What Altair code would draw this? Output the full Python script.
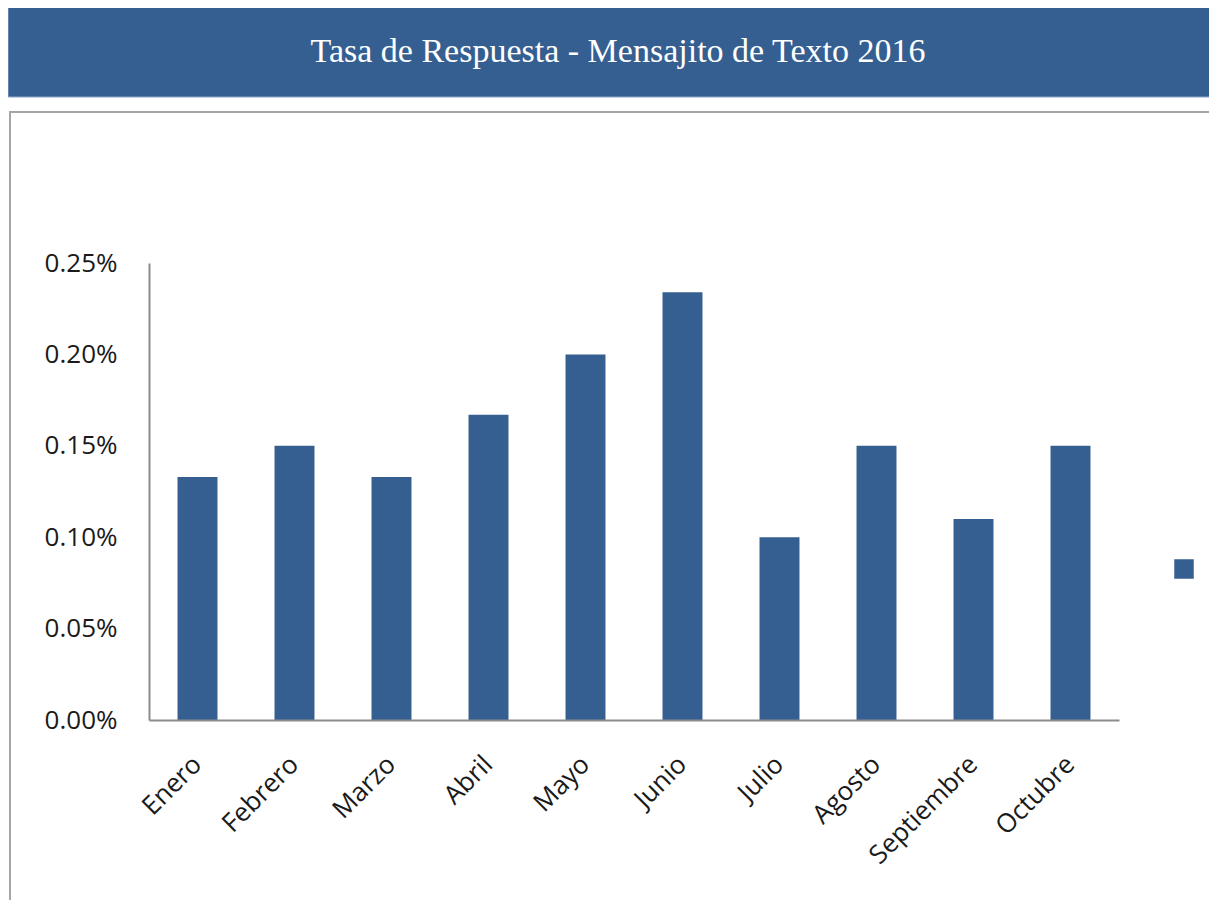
import altair as alt
import pandas as pd

meses = ["Enero", "Febrero", "Marzo", "Abril", "Mayo", "Junio", "Julio",
         "Agosto", "Septiembre", "Octubre"]
tasa = [0.00133, 0.0015, 0.00133, 0.00167, 0.0020, 0.00234, 0.0010,
        0.0015, 0.0011, 0.0015]
y_ticks = [0, 0.0005, 0.001, 0.0015, 0.002, 0.0025]
titulo = "Tasa de Respuesta  - Mensajito de Texto 2016"
serie = " "

BLUE = "#365F91"
df = pd.DataFrame({"mes": meses, "tasa": tasa, "serie": [serie] * len(meses)})

W, H = 970, 457
one = alt.Data(values=[{"t": titulo}])

box = alt.Chart(one).mark_rect(fillOpacity=0, stroke="#A6A6A6", strokeWidth=2).encode(
    x=alt.value(-139), x2=alt.value(1200), y=alt.value(-151), y2=alt.value(800)
)
band = alt.Chart(one).mark_rect(fill=BLUE, stroke="#8EA9CB", strokeWidth=1).encode(
    x=alt.value(-141), x2=alt.value(1070), y=alt.value(-256), y2=alt.value(-166)
)
title = alt.Chart(one).mark_text(
    font="Liberation Serif", fontSize=34, color="white", align="center", baseline="middle"
).encode(x=alt.value(469), y=alt.value(-211), text="t:N")

bars = alt.Chart(df).mark_bar(color=BLUE).encode(
    x=alt.X("mes:N", sort=meses, title=None,
            scale=alt.Scale(paddingInner=0.588, paddingOuter=0.294),
            axis=alt.Axis(labelAngle=-45, labelAlign="right", labelBaseline="middle",
                          labelPadding=40, ticks=False, domainColor="#8C8C8C",
                          domainWidth=2, labelFont="Open Sans", labelFontSize=26,
                          labelColor="#1A1A1A", grid=False, zindex=1)),
    y=alt.Y("tasa:Q", title=None,
            scale=alt.Scale(domain=[0, 0.0025]),
            axis=alt.Axis(values=y_ticks, format=".2%", ticks=False, grid=False,
                          domainColor="#8C8C8C", domainWidth=2, labelPadding=32,
                          labelFont="Open Sans", labelFontSize=26, labelColor="#1A1A1A",
                          zindex=1)),
    color=alt.Color("serie:N", scale=alt.Scale(range=[BLUE]),
                    legend=alt.Legend(title=None, orient="none", legendX=1025, legendY=296,
                                      symbolType="square", symbolSize=380,
                                      labelExpr="''", padding=0, symbolStrokeWidth=0)),
)

chart = alt.layer(box, band, title, bars).properties(
    width=W, height=H,
    background="white",
    autosize=alt.AutoSizeParams(type="none"),
    padding={"left": 141, "top": 255, "right": 90, "bottom": 180},
).configure_view(stroke=None)

chart.save("out.html", embed_options={"renderer": "svg", "actions": False})
